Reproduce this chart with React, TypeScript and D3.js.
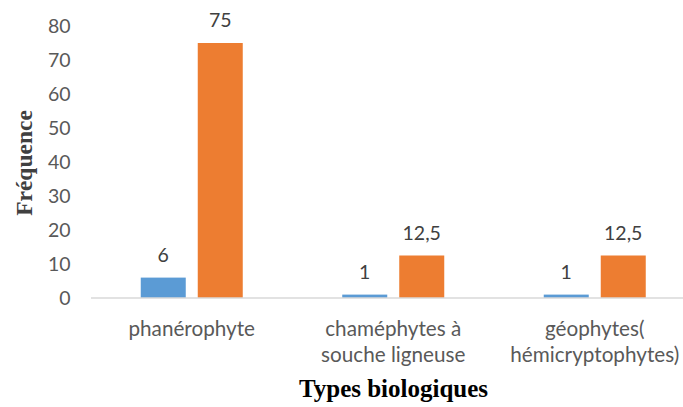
import React from "react";
import * as d3 from "d3";

const categories: string[][] = [
  ["phanérophyte"],
  ["chaméphytes à", "souche ligneuse"],
  ["géophytes(", "hémicryptophytes)"],
];
const categoryKeys = ["phan", "cham", "geo"];
const seriesA = [6, 1, 1];
const seriesB = [75, 12.5, 12.5];
const yTicks = [0, 10, 20, 30, 40, 50, 60, 70, 80];
const fmt = (v: number) => String(v).replace(".", ",");

const W = 683;
const H = 407;

export default function App() {
  const x0 = d3.scaleBand<string>().domain(categoryKeys).range([91, 695.5]).padding(0);
  const x1 = d3
    .scaleBand<string>()
    .domain(["a", "b"])
    .range([49.75, 151.75])
    .paddingInner(0.2105)
    .paddingOuter(0);
  const y = d3.scaleLinear().domain([0, 80]).range([298, 26]);
  const sans = "Lato, 'Open Sans', sans-serif";
  const serif = "'Liberation Serif', 'Times New Roman', serif";

  return (
    <svg
      width={W}
      height={H}
      style={{ position: "absolute", left: 0, top: 0, background: "#fff" }}
    >
      {yTicks.map((t) => (
        <text
          key={t}
          x={70.5}
          y={y(t)}
          dy="0.35em"
          textAnchor="end"
          fontFamily={sans}
          fontSize={19.5}
          fill="#595959"
        >
          {t}
        </text>
      ))}
      {categoryKeys.map((k, i) => {
        const bx = x0(k)!;
        const a = seriesA[i];
        const b = seriesB[i];
        const xa = bx + x1("a")!;
        const xb = bx + x1("b")!;
        const bw = x1.bandwidth();
        return (
          <g key={k}>
            <rect x={xa} y={y(a)} width={bw} height={y(0) - y(a)} fill="#5B9BD5" />
            <rect x={xb} y={y(b)} width={bw} height={y(0) - y(b)} fill="#ED7D31" />
            <text
              x={xa + bw / 2}
              y={y(a) - 16}
              textAnchor="middle"
              fontFamily={sans}
              fontSize={19.5}
              fill="#404040"
            >
              {fmt(a)}
            </text>
            <text
              x={xb + bw / 2}
              y={y(b) - 16}
              textAnchor="middle"
              fontFamily={sans}
              fontSize={19.5}
              fill="#404040"
            >
              {fmt(b)}
            </text>
            {categories[i].map((line, j) => (
              <text
                key={j}
                x={bx + x0.bandwidth() / 2}
                y={329 + j * 26}
                dy="0.35em"
                textAnchor="middle"
                fontFamily={sans}
                fontSize={20.7}
                fill="#595959"
              >
                {line}
              </text>
            ))}
          </g>
        );
      })}
      <line x1={91} x2={W} y1={y(0)} y2={y(0)} stroke="#D9D9D9" strokeWidth={1.5} />
      <text
        transform={`translate(32,163) rotate(-90)`}
        textAnchor="middle"
        fontFamily={serif}
        fontWeight="bold"
        fontSize={23.5}
        fill="#404040"
      >
        Fréquence
      </text>
      <text
        x={393.5}
        y={397}
        textAnchor="middle"
        fontFamily={serif}
        fontWeight="bold"
        fontSize={25}
        fill="#000"
      >
        Types biologiques
      </text>
    </svg>
  );
}
